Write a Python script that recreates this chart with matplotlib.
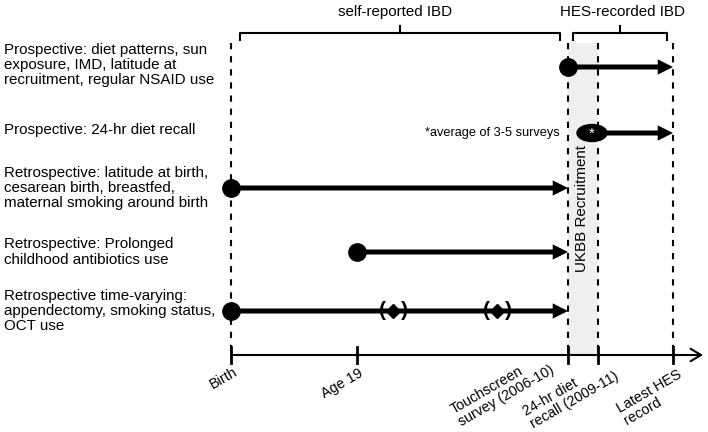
import matplotlib
matplotlib.use("Agg")
import matplotlib.pyplot as plt
from matplotlib.patches import Ellipse, Rectangle

plt.rcParams['font.family'] = ['Liberation Sans', 'DejaVu Sans']

# timeline events (x in drawing units) and their labels
event_labels = ['Birth', 'Age 19', 'Touchscreen\nsurvey (2006-10)',
                '24-hr diet\nrecall (2009-11)', 'Latest HES\nrecord']
event_x = [231, 357, 568, 598, 673]
dashed_events = [0, 2, 3, 4]           # which events get a dashed guide line

# rows: exposure groups, start/end on the timeline
row_labels = ['Prospective: diet patterns, sun\nexposure, IMD, latitude at\nrecruitment, regular NSAID use',
              'Prospective: 24-hr diet recall',
              'Retrospective: latitude at birth,\ncesarean birth, breastfed,\nmaternal smoking around birth',
              'Retrospective: Prolonged\nchildhood antibiotics use',
              'Retrospective time-varying:\nappendectomy, smoking status,\nOCT use']
row_y = [67, 133, 188, 252, 311]
row_start = [568, 592, 231, 357, 231]
row_end = [673, 673, 568, 568, 568]
row_marker = ['circle', 'ellipse', 'circle', 'circle', 'circle']
text_y = [65, 130, 188, 252, 311]

# time-varying updates on the last row
update_x = [393, 497]

# outcome brackets
brackets = ['self-reported IBD', 'HES-recorded IBD']
bracket_from = [240, 573]
bracket_to = [560, 667]

fig = plt.figure(figsize=(7.08, 4.32), dpi=100)
ax = fig.add_axes([0, 0, 1, 1])
ax.set_xlim(0, 708)
ax.set_ylim(432, 0)
ax.axis('off')

axis_y = 355
top_y = 43
fs = 10.9

# shaded recruitment window
ax.add_patch(Rectangle((event_x[2], top_y), event_x[3] - event_x[2], axis_y - top_y,
                       facecolor='#efefef', edgecolor='none', zorder=0))
ax.text((event_x[2] + event_x[3]) / 2 - 1, 208, 'UKBB Recruitment', rotation=90,
        ha='center', va='center', fontsize=fs)

# dashed guides
for i in dashed_events:
    ax.plot([event_x[i], event_x[i]], [top_y, axis_y], color='k', lw=1.5,
            linestyle=(0, (3, 3.3)), zorder=1)

# time axis
ax.annotate('', xy=(703, axis_y), xytext=(event_x[0], axis_y),
            arrowprops=dict(arrowstyle='->,head_length=0.5,head_width=0.3', lw=1.5,
                            color='k', shrinkA=0, shrinkB=0, mutation_scale=15))
for x in event_x:
    ax.plot([x, x], [axis_y - 8, axis_y + 8], color='k', lw=2)

label_anchor = [(233, 365), (358, 366), (542, 350), (607, 357), (677, 367)]
for lab, (ax_x, ax_y) in zip(event_labels, label_anchor):
    ax.text(ax_x, ax_y, lab, rotation=30, rotation_mode='anchor', ha='right', va='top',
            multialignment='left', fontsize=10.3, linespacing=1.05)

# rows
for lab, y, ty, x0, x1, m in zip(row_labels, row_y, text_y, row_start, row_end, row_marker):
    ax.text(4, ty, lab, ha='left', va='center', fontsize=fs, linespacing=1.12)
    ax.annotate('', xy=(x1, y), xytext=(x0, y),
                arrowprops=dict(arrowstyle='simple,head_length=0.55,head_width=0.55,tail_width=0.18',
                                fc='k', ec='none', lw=0, mutation_scale=20,
                                shrinkA=0, shrinkB=0), zorder=3)
    if m == 'circle':
        ax.plot(x0, y, 'o', color='k', markersize=12.5, zorder=4)
    else:
        ax.add_patch(Ellipse((x0, y), 30, 17, color='k', zorder=4))
        ax.text(x0, y + 1, '*', color='white', ha='center', va='center',
                fontsize=11, zorder=5)

ax.text(560, 133, '*average of 3-5 surveys', ha='right', va='center', fontsize=9.2)

# updates on time-varying row
for x in update_x:
    ax.plot(x, row_y[4], 'D', color='k', markersize=7, zorder=4)
    ax.text(x - 11, row_y[4], '(', ha='center', va='center', fontsize=15, fontweight='bold')
    ax.text(x + 11, row_y[4], ')', ha='center', va='center', fontsize=15, fontweight='bold')

# outcome brackets
for lab, b0, b1 in zip(brackets, bracket_from, bracket_to):
    mid = (b0 + b1) / 2
    ax.plot([b0, b0, b1, b1], [40, 33, 33, 40], color='k', lw=1.5,
            solid_joinstyle='round')
    ax.plot([mid, mid], [33, 26], color='k', lw=1.5)
ax.text(395, 12, brackets[0], ha='center', va='center', fontsize=fs)
ax.text(622, 12, brackets[1], ha='center', va='center', fontsize=fs)

fig.savefig('out.png', dpi=100)
